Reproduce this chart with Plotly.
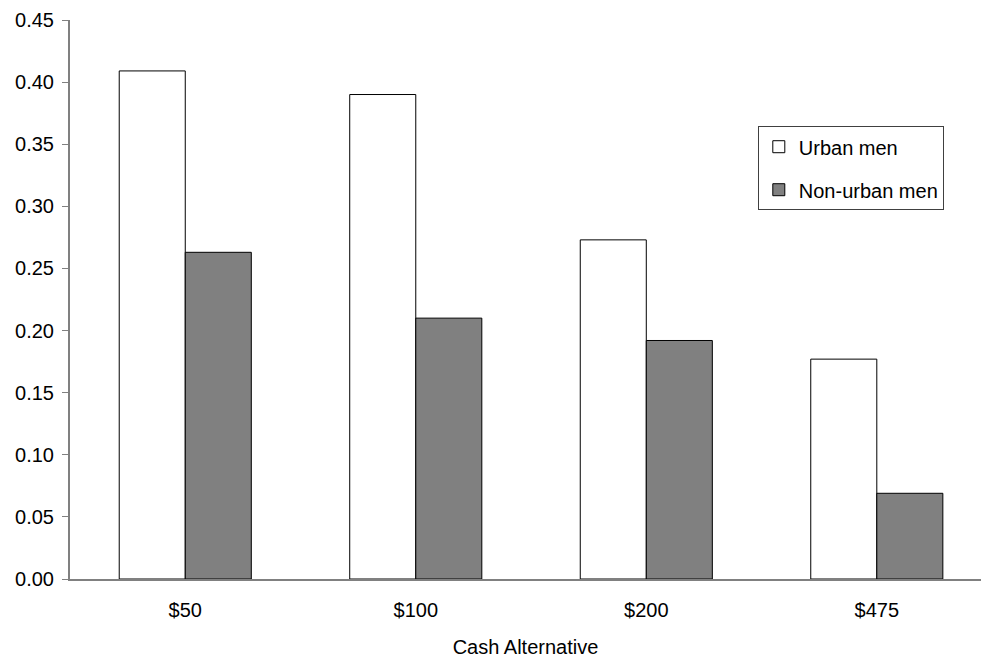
import plotly.graph_objects as go

# Cash alternative categories and share of respondents in each group
categories = ["$50", "$100", "$200", "$475"]
urban_men = [0.409, 0.390, 0.273, 0.177]
non_urban_men = [0.263, 0.210, 0.192, 0.069]
y_ticks = [0.00, 0.05, 0.10, 0.15, 0.20, 0.25, 0.30, 0.35, 0.40, 0.45]

FONT = "Arial, Liberation Sans, sans-serif"

fig = go.Figure()
fig.add_trace(go.Bar(
    x=categories, y=urban_men, name="Urban men",
    marker=dict(color="#ffffff", line=dict(color="#000000", width=1)),
    legendgroup="a",
))
fig.add_trace(go.Bar(
    x=categories, y=non_urban_men, name="Non-urban men",
    marker=dict(color="#808080", line=dict(color="#000000", width=1)),
    legendgroup="b",
))

fig.update_layout(
    width=981, height=660,
    margin=dict(l=70, r=0, t=20, b=81),
    paper_bgcolor="#ffffff", plot_bgcolor="#ffffff",
    font=dict(family=FONT, size=20, color="#000000"),
    barmode="group", bargap=0.427, bargroupgap=0,
    showlegend=True,
    legend=dict(
        x=0.755, y=0.81, xanchor="left", yanchor="top",
        bordercolor="#404040", borderwidth=1, bgcolor="#ffffff",
        font=dict(family=FONT, size=20),
        traceorder="grouped", tracegroupgap=14,
    ),
    xaxis=dict(
        range=[-0.5, 3.452],
        showline=True, linecolor="#808080", linewidth=2,
        ticks="", showgrid=False, zeroline=False,
        ticklabelstandoff=12,
        title=dict(text="Cash Alternative", font=dict(family=FONT, size=20), standoff=20),
    ),
    yaxis=dict(
        range=[0, 0.45],
        tickvals=y_ticks, tickformat=".2f",
        showline=True, linecolor="#808080", linewidth=2,
        ticks="outside", ticklen=6, tickcolor="#808080", tickwidth=1,
        ticklabelstandoff=4,
        showgrid=False, zeroline=False,
    ),
)

fig.write_html("out.html")
